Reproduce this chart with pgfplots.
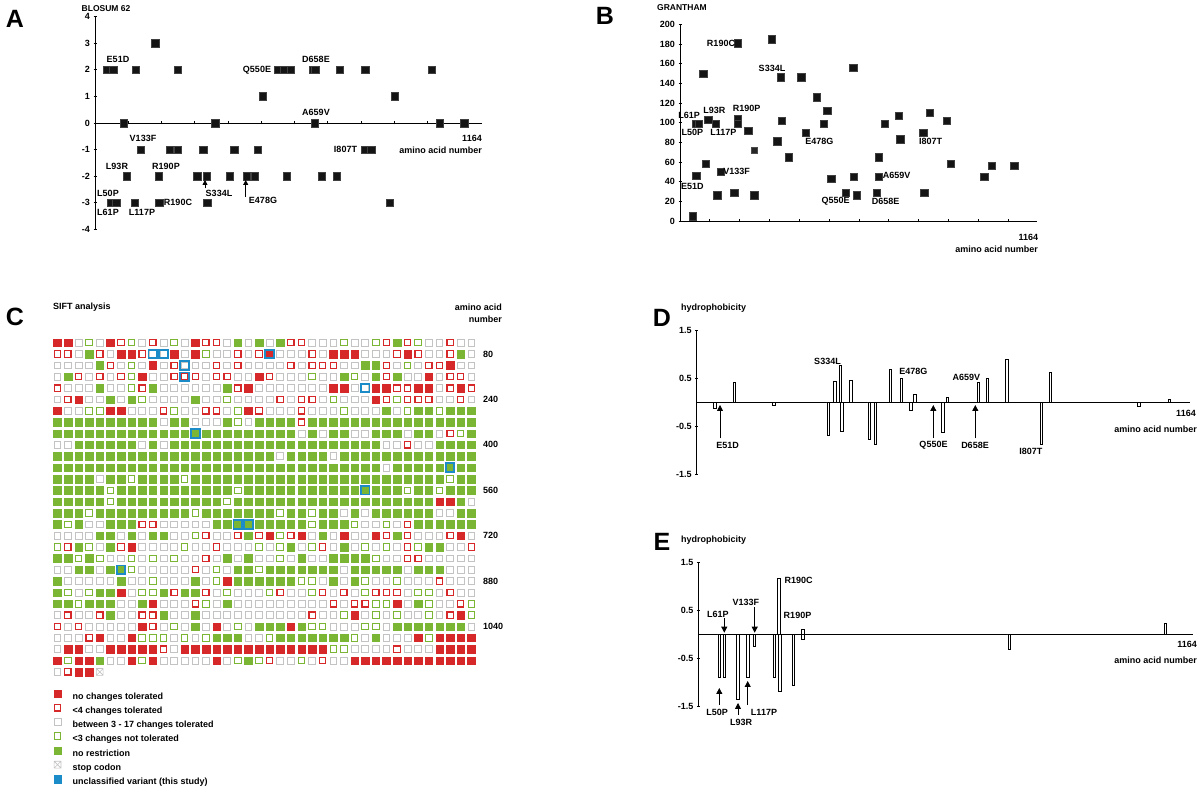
\documentclass[border=0pt]{standalone}
\usepackage{pgfplots}
\pgfplotsset{compat=1.18}
\usepackage{pgfplotstable}
\usepackage{fontspec}
\setmainfont{Liberation Sans}
\usetikzlibrary{arrows.meta}
\definecolor{sred}{RGB}{214,40,40}
\definecolor{sgreen}{RGB}{122,182,52}
\definecolor{sgrey}{RGB}{195,195,195}
\definecolor{sblue}{RGB}{28,140,200}
\newcommand\lab{\fontsize{9}{10}\selectfont\bfseries}
\newcommand\panelfont{\fontsize{25}{25}\selectfont\bfseries}

\pgfdeclareplotmark{boxx}{%
  \pgfpathrectangle{\pgfqpoint{-\pgfplotmarksize}{-\pgfplotmarksize}}{\pgfqpoint{2\pgfplotmarksize}{2\pgfplotmarksize}}%
  \pgfpathmoveto{\pgfqpoint{-\pgfplotmarksize}{-\pgfplotmarksize}}\pgfpathlineto{\pgfqpoint{\pgfplotmarksize}{\pgfplotmarksize}}%
  \pgfpathmoveto{\pgfqpoint{-\pgfplotmarksize}{\pgfplotmarksize}}\pgfpathlineto{\pgfqpoint{\pgfplotmarksize}{-\pgfplotmarksize}}%
  \pgfusepathqstroke}

\pgfplotstableread{
x y
181 3
37 2
55 2
123 2
248 2
549 2
569 2
589 2
655 2
662 2
736 2
813 2
1012 2
504 1
902 1
86 0
362 0
661 0
1037 0
1111 0
137 -1
225 -1
249 -1
325 -1
419 -1
490 -1
811 -1
831 -1
96 -2
192 -2
307 -2
336 -2
405 -2
456 -2
481 -2
577 -2
682 -2
727 -2
48 -3
64 -3
120 -3
193 -3
338 -3
886 -3
}\blosum

\pgfplotstableread{
x y
42 5
54 46
78 150
86 58
54 99
63 99
94 103
120 99
124 26
136 50
182 29
193 181
193 104
193 99
228 92
249 26
307 185
337 146
341 102
326 81
364 65
407 146
422 90
458 126
493 112
482 99
507 43
555 29
581 156
583 45
593 26
659 29
666 65
666 45
687 99
733 107
739 83
815 90
818 29
838 110
894 102
907 58
1020 45
1045 56
1120 56
}\grantham

\pgfplotstableread{
x y
43 -0.12
88 0.42
182 -0.06
310 -0.68
326 0.45
339 0.77
342 -0.61
364 0.47
407 -0.77
422 -0.87
457 0.69
483 0.51
505 -0.17
515 0.17
581 -0.62
592 0.11
665 0.41
686 0.51
732 0.90
813 -0.87
835 0.62
1043 -0.08
1115 0.07
}\hydroD

\pgfplotstableread{
x y
49 -0.90
61 -0.90
93 -1.37
116 -0.90
132 -0.24
179 -0.90
189 1.17
192 -1.20
224 -1.06
246 0.10
246 -0.10
731 -0.31
1098 0.23
}\hydroE

% SIFT grid: row index, then 40 classes (R no change, r <4, w 3-17, g <3 not tol., G no restriction, X stop, N empty)
\pgfplotstableread[header=false]{
1 R R w g w R r g w r w g w R r r w G w G w G r r w w w g w w g r G r g w w r w w
2 r r w G r w R R r w w R w R g w w r w r R w w w r w R R R w w w r R r w w r G w
3 w w w w G r w g w R w r w w w r w r w w w w r w r r r w w G G r w g w r r R w w
4 w G r w r w r g R w w r r r w r r w w R r w w w g w w G g w G r G w w R w r r w
5 r w w w G w w g r G w w w w w w G r R w w w w w w w R R w w R R r r R R w r R r
6 w r R w w G w G g w w w w G w w g w w w w r w r r w g w w w R r g r r r w w r w
7 R w w g g R R w w w r g w w r r w g R r w w w r w w w g w w w G w g G G g G G G
8 G G G G G G G G G G w G G w w w G g w G G G G r G G G G G G G G G G G G G G G G
9 G G G G G G G G G G G G G G G G G G G G G G G w G w G G w w G G G w G G w r g G
10 w w G G G G G G w G w G G G G G G G G G G G G G G G G G G G G w w r w w G G G G
11 G G G G G G G G G G G G G G G G G G G G G w G G G G w G G G G G G G G G G G G G
12 G G G G G G G G G G G G G G G G G G G G G G G G G G G G G G G w G G G G G G G G
13 G G G G w G G g G G G G g G G G G G G G G G G G G G G G G G G G G G G G G g G G
14 G G G G G g G G G G G G G G G G G g G G G G G G G G G G G G G G G g G G g G G G
15 G G G G G g G G G G G G G G G G g G G G G G G G G G G G G G G G G G G G R R G w
16 G G G g G G G G G G G G G g G G G G G G G g G G g G G w G w G G G G G G w w G G
17 G g G w w G G G r r w w w w w G G G G G G G G G g G G G g w w g w r G G G G G G
18 w w w w G G w G w G G w w g r w w r G r R g r R w G w R w w R r G r w w w r R w
19 g r G g w G r R w w w w g w w r w w w g w g G w g r w G w g w g w r g G G w w r
20 G G g G g w w g w g w g w w r w G w G w w g w G w w G G G G g w w r r w w w w w
21 w w G G w G G g w w w w w r w g w G G g G G G G G G G w G G G G G w G G G w w w
22 G w w w w w G w w g w w w G w g R G G G G G G g g w G w G g w w g w w w r w w w
23 G g w g G G R w g g G r G G r w g w w w g r w w g r w r w g r r r w g g w r w w
24 G G g G G G w w G R w w w r g w G w w w w w w w w w r w r r g g R w G g w w r g
25 w r w w r G w w r r G w w G w w w w w w w w w w r w w g R w g w g w w g w r R g
26 r w r w w w w w R r w g w G w R w g w G G G R G g g w w w g g w G G G G G G G w
27 w w w r R w w R g g g w g w g G G G w w g G G G G G G G g w G w w w R g R R R R
28 w R R w w R R R R R r w R R R R R R R R R R R R R R g g w w w w r w w w R R R R
29 R g R R G w w R g R w w w w w R w g G g r w w g w r w w R R R R R R R R R R R R
30 w r R R X N N N N N N N N N N N N N N N N N N N N N N N N N N N N N N N N N N N
}\sift

\pgfplotsset{
  siftmarks/.style={only marks, scatter, scatter src=explicit symbolic, forget plot,
    scatter/classes={
      R={mark=square*, draw=sred, fill=sred, mark size=3.75pt, line width=0.3pt},
      r={mark=square, draw=sred, mark size=3.15pt, line width=1.2pt},
      w={mark=square, draw=sgrey, mark size=3.4pt, line width=0.7pt},
      g={mark=square, draw=sgreen, mark size=3.25pt, line width=1pt},
      G={mark=square*, draw=sgreen, fill=sgreen, mark size=3.75pt, line width=0.3pt},
      X={mark=boxx, draw=sgrey, mark size=3.4pt, line width=0.6pt},
      N={mark=square, draw=white, fill=white, draw opacity=0, fill opacity=0, mark size=0.5pt}}},
  every axis/.append style={tick label style={font=\lab},
    /pgf/number format/assume math mode=true,
    tick style={black, line width=0.8pt},
    major tick length=3pt, tick align=outside},
  noarrows/.style={axis line style={-, line width=0.9pt},
    every inner x axis line/.append style={-},
    every outer x axis line/.append style={-},
    every inner y axis line/.append style={-},
    every outer y axis line/.append style={-}}
}

\begin{document}
\begin{tikzpicture}
\tikzset{lbl/.style={font=\lab, inner sep=0pt}}

% ---------------- Panel A ----------------
\begin{axis}[at={(95pt,557.7pt)}, anchor=south west, scale only axis,
  width=387pt, height=212.6pt,
  xmin=0, xmax=1164, ymin=-4, ymax=4,
  axis x line=middle, axis y line=left, noarrows,
  xtick={100,200,...,1100}, xticklabels={}, ytick={-4,-3,...,4},
  clip=false]
\addplot[only marks, mark=square*, mark size=3.75pt,
  mark options={fill=black!92, draw=black!75, line width=0.4pt}] table {\blosum};
\end{axis}

% ---------------- Panel B ----------------
\begin{axis}[at={(680pt,566pt)}, anchor=south west, scale only axis,
  width=356.7pt, height=196.7pt,
  xmin=0, xmax=1196, ymin=0, ymax=200,
  axis x line=bottom, axis y line=left, noarrows,
  xtick={100,200,...,1100}, xticklabels={}, ytick={0,20,...,200},
  clip=false]
\addplot[only marks, mark=square*, mark size=3.75pt,
  mark options={fill=black!92, draw=black!75, line width=0.4pt}] table {\grantham};
\addplot[only marks, mark=square*, mark size=2.6pt,
  mark options={fill=black!85, draw=black!70}] coordinates {(249,72)};
\end{axis}

% ---------------- Panel C ----------------
\begin{axis}[at={(52pt,109.4pt)}, anchor=south west, scale only axis,
  width=424.6pt, height=340.6pt,
  xmin=0.5, xmax=40.5, ymin=0.5, ymax=30.5, y dir=reverse,
  hide axis, clip=false,
  legend image code/.code={\path[draw=none, fill=none] (-4pt,-0.8pt) rectangle (4pt,7.2pt);
    \path[#1, draw=none, fill=none] plot coordinates {(0pt,3.2pt)};},
  legend style={draw=none, fill=none, at={(axis description cs:0.0031,-0.0343)},
    anchor=north west, inner sep=0pt, row sep=2.9pt, column sep=11pt,
    font=\lab, nodes={inner sep=0pt, text height=6.5pt, text depth=1.8pt}},
  legend cell align=left]
\pgfplotsinvokeforeach{1,...,40}{
  \addplot[siftmarks] table[x expr=#1, y index=0, meta index=#1] {\sift};
}
\addplot[only marks, forget plot, mark=square, mark size=4.3pt,
  mark options={draw=sblue, line width=1.8pt}] coordinates {
  (10,2) (11,2) (21,2) (13,3) (13,4) (30,5) (14,9) (38,12) (30,14) (18,17) (19,17) (7,21)};
\addlegendimage{mark=square*, mark size=3.8pt, line width=0.3pt, mark options={draw=sred, fill=sred}}
\addlegendentry{no changes tolerated}
\addlegendimage{mark=square, mark size=3.2pt, line width=1.3pt, mark options={draw=sred, fill=none}}
\addlegendentry{<4 changes tolerated}
\addlegendimage{mark=square, mark size=3.4pt, line width=0.8pt, mark options={draw=sgrey, fill=none}}
\addlegendentry{between 3 - 17 changes tolerated}
\addlegendimage{mark=square, mark size=3.3pt, line width=1.1pt, mark options={draw=sgreen, fill=none}}
\addlegendentry{<3 changes not tolerated}
\addlegendimage{mark=square*, mark size=3.8pt, line width=0.3pt, mark options={draw=sgreen, fill=sgreen}}
\addlegendentry{no restriction}
\addlegendimage{mark=boxx, mark size=3.4pt, line width=0.7pt, mark options={draw=sgrey, fill=none}}
\addlegendentry{stop codon}
\addlegendimage{mark=square*, mark size=3.8pt, line width=0.3pt, mark options={draw=sblue, fill=sblue}}
\addlegendentry{unclassified variant (this study)}
\node[lbl, anchor=west] at (axis cs:41.1,2) {80};
\node[lbl, anchor=west] at (axis cs:41.1,6) {240};
\node[lbl, anchor=west] at (axis cs:41.1,10) {400};
\node[lbl, anchor=west] at (axis cs:41.1,14) {560};
\node[lbl, anchor=west] at (axis cs:41.1,18) {720};
\node[lbl, anchor=west] at (axis cs:41.1,22) {880};
\node[lbl, anchor=west] at (axis cs:41.1,26) {1040};
\end{axis}

% ---------------- Panel D ----------------
\begin{axis}[at={(696.7pt,313pt)}, anchor=south west, scale only axis,
  width=493.3pt, height=143.3pt,
  xmin=0, xmax=1164, ymin=-1.5, ymax=1.5,
  axis x line=middle, axis y line=left, noarrows,
  xtick=\empty, ytick={-1.5,-0.5,0.5,1.5}, clip=false]
\addplot[ybar, bar width=2.4pt, draw=black, fill=white, line width=0.6pt] table {\hydroD};
\end{axis}

% ---------------- Panel E ----------------
\begin{axis}[at={(698.3pt,81pt)}, anchor=south west, scale only axis,
  width=495pt, height=143.3pt,
  xmin=0, xmax=1164, ymin=-1.5, ymax=1.5,
  axis x line=middle, axis y line=left, noarrows,
  xtick=\empty, ytick={-1.5,-0.5,0.5,1.5}, clip=false]
\addplot[ybar, bar width=2.4pt, draw=black, fill=white, line width=0.6pt] table {\hydroE};
\end{axis}

\begin{scope}[x=1pt,y=1pt]
% ---------------- annotations ----------------
\node[font=\panelfont] at (15,768) {A};
\node[font=\panelfont] at (605,771) {B};
\node[font=\panelfont] at (15,470) {C};
\node[font=\panelfont] at (662,469) {D};
\node[font=\panelfont] at (662,245) {E};

% A
\node[lbl, font=\fontsize{8.5}{10}\selectfont\bfseries] at (106,778) {BLOSUM 62};
\node[lbl] at (118,728) {E51D};
\node[lbl] at (143,649) {V133F};
\node[lbl] at (117,621) {L93R};
\node[lbl] at (166,621) {R190P};
\node[lbl] at (108,594) {L50P};
\node[lbl] at (108,575) {L61P};
\node[lbl] at (142,575) {L117P};
\node[lbl] at (178,585) {R190C};
\node[lbl] at (219,594) {S334L};
\node[lbl] at (263,587) {E478G};
\node[lbl] at (257,717) {Q550E};
\node[lbl] at (316,728) {D658E};
\node[lbl] at (316,675) {A659V};
\node[lbl] at (345.5,638) {I807T};
\node[lbl] at (472,649) {1164};
\node[lbl, anchor=east] at (482,637) {amino acid number};
\draw[line width=0.8pt, -{Triangle[length=5pt,width=5pt]}] (205,598.7) -- (205,607);
\draw[line width=0.8pt, -{Triangle[length=5pt,width=5pt]}] (245.7,590.3) -- (245.7,607);

% B
\node[lbl, font=\fontsize{8.5}{10}\selectfont\bfseries] at (682,779) {GRANTHAM};
\node[lbl] at (721,743.7) {R190C};
\node[lbl] at (772,719) {S334L};
\node[lbl] at (689,672) {L61P};
\node[lbl] at (714.3,677) {L93R};
\node[lbl] at (746.7,678.7) {R190P};
\node[lbl] at (692.3,654.3) {L50P};
\node[lbl] at (723.3,654.3) {L117P};
\node[lbl] at (819.3,645.3) {E478G};
\node[lbl] at (930.7,645.3) {I807T};
\node[lbl] at (736.7,615.7) {V133F};
\node[lbl] at (692.3,600.3) {E51D};
\node[lbl] at (896.7,611.3) {A659V};
\node[lbl] at (835.7,585.3) {Q550E};
\node[lbl] at (885.7,585.3) {D658E};
\node[lbl] at (1028.3,549.3) {1164};
\node[lbl, anchor=east] at (1038,538) {amino acid number};

% C
\node[lbl, anchor=west] at (53,479.7) {SIFT analysis};
\node[lbl, anchor=east] at (502,480) {amino acid};
\node[lbl, anchor=east] at (502,468) {number};

% D
\node[lbl, anchor=west] at (681,479) {hydrophobicity};
\node[lbl] at (827.5,426) {S334L};
\node[lbl] at (913.3,415.3) {E478G};
\node[lbl] at (966.3,409.7) {A659V};
\node[lbl] at (727.7,341.3) {E51D};
\node[lbl] at (933.5,341.3) {Q550E};
\node[lbl] at (975,341.3) {D658E};
\node[lbl] at (1030.8,336) {I807T};
\node[lbl] at (1186,373.7) {1164};
\node[lbl, anchor=east] at (1197,357.7) {amino acid number};
\draw[line width=0.8pt, -{Triangle[length=6pt,width=6pt]}] (720,348.7) -- (720,382);
\draw[line width=0.8pt, -{Triangle[length=6pt,width=6pt]}] (933.3,348.7) -- (933.3,382);
\draw[line width=0.8pt, -{Triangle[length=6pt,width=6pt]}] (975.3,348.7) -- (975.3,382);

% E
\node[lbl, anchor=west] at (681,247) {hydrophobicity};
\node[lbl] at (717.8,172.7) {L61P};
\node[lbl] at (745.8,184.7) {V133F};
\node[lbl] at (798.7,206.3) {R190C};
\node[lbl] at (797.5,171.7) {R190P};
\node[lbl] at (717,75) {L50P};
\node[lbl] at (741,65) {L93R};
\node[lbl] at (764,75) {L117P};
\node[lbl] at (1187,142.7) {1164};
\node[lbl, anchor=east] at (1197,126.3) {amino acid number};
\draw[line width=0.8pt, -{Triangle[length=6pt,width=6pt]}] (724.3,168.7) -- (724.3,154.3);
\draw[line width=0.8pt, -{Triangle[length=6pt,width=6pt]}] (754.7,179.7) -- (754.7,154.3);
\draw[line width=0.8pt, -{Triangle[length=6pt,width=6pt]}] (719.3,82) -- (719.3,99);
\draw[line width=0.8pt, -{Triangle[length=6pt,width=6pt]}] (738,72) -- (738,84);
\draw[line width=0.8pt, -{Triangle[length=6pt,width=6pt]}] (747.7,82) -- (747.7,106);
\end{scope}

\pgfresetboundingbox
\path[use as bounding box] (0pt,0pt) rectangle (1200pt,787pt);
\end{tikzpicture}
\end{document}
